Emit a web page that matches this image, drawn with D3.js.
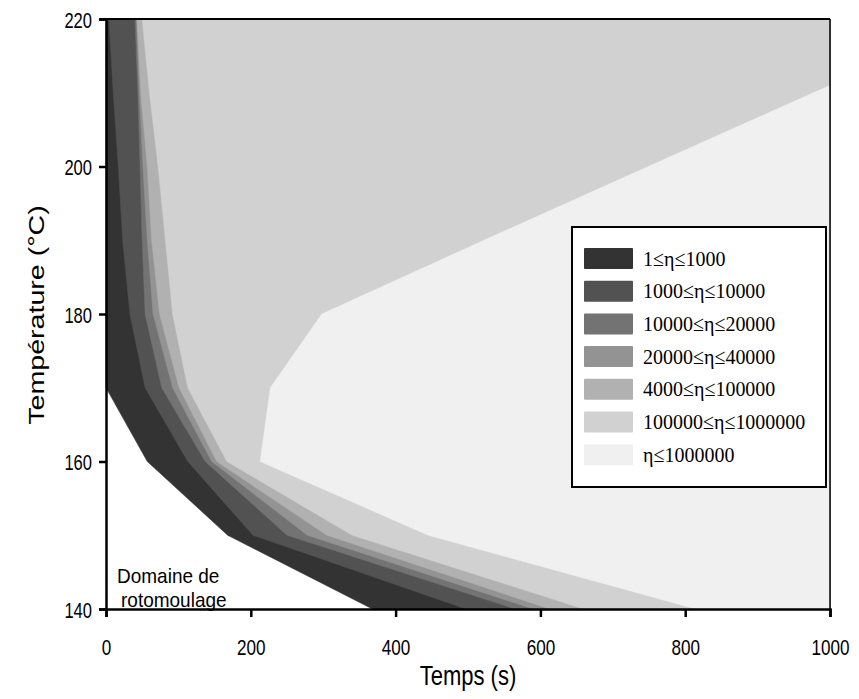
<!DOCTYPE html>
<html>
<head>
<meta charset="utf-8">
<script src="https://cdn.jsdelivr.net/npm/d3@7"></script>
<style>
  body { margin: 0; background: #ffffff; }
  svg { display: block; }
</style>
</head>
<body>
<svg id="chart" width="859" height="699"></svg>
<script>
// ---- Data ----
// Temperatures at which the contour boundaries are sampled (°C)
const temps = [220, 210, 200, 190, 180, 170, 160, 150, 140];
// Time (s) of each iso-viscosity boundary at each temperature
const bound0 = [0, 0, 0, 0, 0, 0, 57, 168, 368];        // domaine / 1-1000
const bound1 = [4, 10, 17, 23, 33, 54, 113, 203, 497];  // 1000
const bound2 = [40, 44, 47, 50, 54, 77, 137, 250, 565]; // 10000
const bound3 = [42, 46, 51, 57, 65, 92, 146, 278, 590]; // 20000
const bound4 = [43, 48, 57, 63, 74, 101, 153, 305, 613]; // 40000
const bound5 = [50, 60, 72, 82, 92, 113, 167, 340, 660]; // 100000
// Last boundary (1000000) leaves the plot through the right edge
const temps6 = [211, 210, 200, 190, 180, 170, 160, 150, 140];
const bound6 = [1000, 977, 749, 522, 298, 227, 213, 445, 815];

const levelLabels = ["1≤η≤1000", "1000≤η≤10000", "10000≤η≤20000", "20000≤η≤40000",
                     "4000≤η≤100000", "100000≤η≤1000000", "η≤1000000"];
const levelColors = ["#333333", "#525252", "#737373", "#939393", "#b1b1b1", "#d1d1d1", "#f0f0f0"];

const xTicks = [0, 200, 400, 600, 800, 1000];
const yTicks = [140, 160, 180, 200, 220];

// ---- Chart ----
const svg = d3.select("#chart");
const x = d3.scaleLinear().domain([0, 1000]).range([106, 830]);
const y = d3.scaleLinear().domain([140, 220]).range([609, 19]);

const line = d3.line().x(d => x(d[0])).y(d => y(d[1]));

const boundaries = [bound0, bound1, bound2, bound3, bound4, bound5].map(b => b.map((t, i) => [t, temps[i]]));
const b6 = bound6.map((t, i) => [t, temps6[i]]);

// plot background (white: domaine de rotomoulage)
svg.append("rect").attr("x", x(0)).attr("y", y(220)).attr("width", x(1000) - x(0)).attr("height", y(140) - y(220)).attr("fill", "#ffffff");

const g = svg.append("g");
boundaries.forEach((b, k) => {
  const pts = b.concat([[1000, 140], [1000, 220]]);
  g.append("path").attr("d", line(pts) + "Z").attr("fill", levelColors[k]).attr("stroke", levelColors[k]).attr("stroke-width", 0.5);
});
g.append("path").attr("d", line(b6.concat([[1000, 140]])) + "Z").attr("fill", levelColors[6]).attr("stroke", levelColors[6]).attr("stroke-width", 0.5);

// frame (top and right)
svg.append("line").attr("x1", x(0) - 6).attr("x2", x(1000)).attr("y1", y(220)).attr("y2", y(220)).attr("stroke", "#000").attr("stroke-width", 2);
svg.append("line").attr("x1", x(1000)).attr("x2", x(1000)).attr("y1", y(220)).attr("y2", y(140)).attr("stroke", "#000").attr("stroke-width", 1.5);

// axes
const FONT = "Liberation Sans, Arial, sans-serif";
const xAxis = d3.axisBottom(x).tickValues(xTicks).tickSize(8).tickFormat(d3.format("d"));
const yAxis = d3.axisLeft(y).tickValues(yTicks).tickSize(7).tickFormat(d3.format("d"));

const gx = svg.append("g").attr("transform", `translate(0,${y(140)})`).call(xAxis);
const gy = svg.append("g").attr("transform", `translate(${x(0)},0)`).call(yAxis);
[gx, gy].forEach(a => {
  a.select(".domain").attr("stroke", "#000").attr("stroke-width", 2.5);
  a.selectAll(".tick line").attr("stroke", "#000").attr("stroke-width", 2.5);
  a.selectAll(".tick text").attr("fill", "#000").attr("font-family", FONT).attr("font-size", 18)
    .attr("x", 0).attr("y", 0).attr("dy", null);
});
// the reference's text is drawn slightly stretched vertically
gx.selectAll(".tick text").attr("transform", "translate(0,46) scale(0.95,1.25)");
gy.selectAll(".tick text").attr("transform", "translate(-14,8) scale(0.92,1.25)");

// axis titles
svg.append("text").attr("transform", "translate(468,685) scale(1,1.25)").attr("text-anchor", "middle")
  .attr("font-family", FONT).attr("font-size", 22).text("Temps (s)");
svg.append("text").attr("transform", "translate(44,315) rotate(-90) scale(1.3,1)").attr("text-anchor", "middle")
  .attr("font-family", FONT).attr("font-size", 22).text("Température (°C)");

// annotation
svg.append("text").attr("transform", "translate(117,583) scale(1,1.1)").attr("font-family", FONT).attr("font-size", 19).text("Domaine de");
svg.append("text").attr("transform", "translate(121,607) scale(1,1.1)").attr("font-family", FONT).attr("font-size", 19).text("rotomoulage");

// legend
const lg = svg.append("g");
lg.append("rect").attr("x", 572).attr("y", 227).attr("width", 254).attr("height", 260).attr("fill", "#fff").attr("stroke", "#000").attr("stroke-width", 2);
levelLabels.forEach((lab, i) => {
  const cy = 258.5 + i * 32.7;
  lg.append("rect").attr("x", 584).attr("y", cy - 10.5).attr("width", 49).attr("height", 21).attr("rx", 1).attr("fill", levelColors[i]);
  lg.append("text").attr("transform", `translate(643,${cy + 7}) scale(1,1.1)`).attr("font-family", "Liberation Serif, Times New Roman, serif").attr("font-size", 20).text(lab);
});
</script>
</body>
</html>
